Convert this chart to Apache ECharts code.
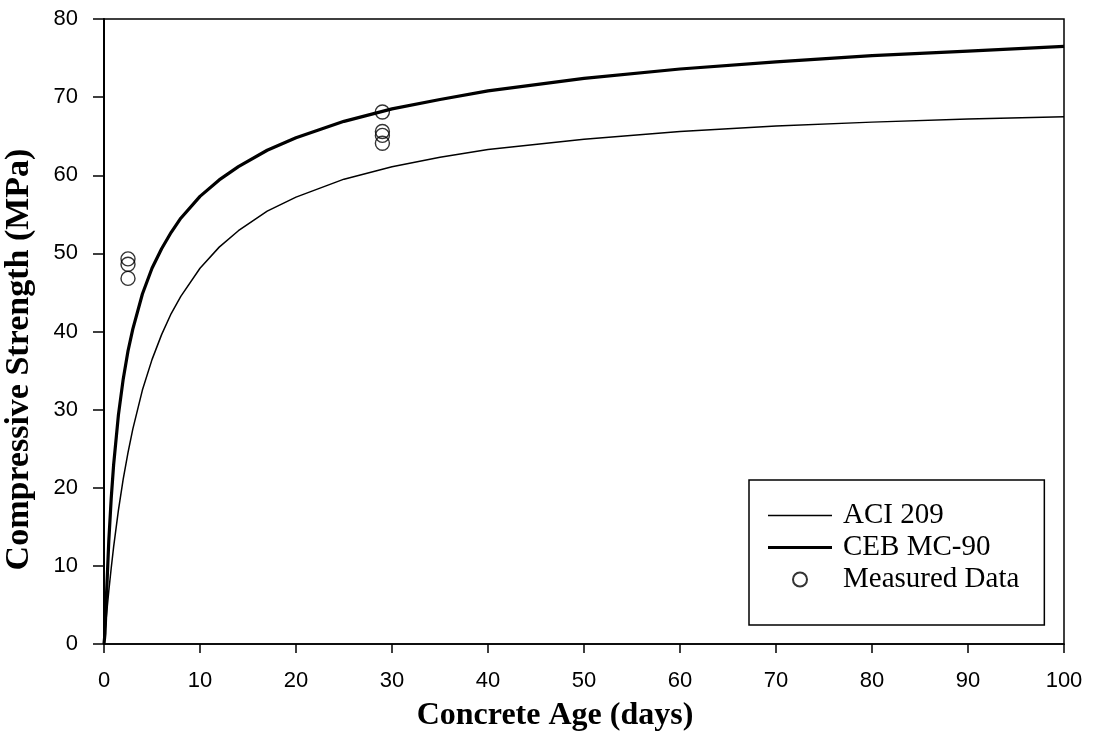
<!DOCTYPE html>
<html>
<head>
<meta charset="utf-8">
<script src="https://cdn.jsdelivr.net/npm/echarts@6/dist/echarts.min.js"></script>
<style>
  html, body { margin: 0; padding: 0; background: #fff; }
  #strengthChart { width: 1097px; height: 741px; }
</style>
</head>
<body>
<div id="strengthChart"></div>
<script>
// concrete age in days
var ageDays = [0, 0.1, 0.25, 0.5, 0.75, 1, 1.5, 2, 2.5, 3, 4, 5, 6, 7, 8, 10, 12, 14, 17, 20, 25, 30, 35, 40, 50, 60, 70, 80, 90, 100]
// ACI 209 (thin line)
var aciValues = [0, 1.5, 3.6, 6.8, 9.7, 12.4, 17.1, 21.1, 24.5, 27.5, 32.5, 36.4, 39.6, 42.3, 44.5, 48.1, 50.8, 52.9, 55.4, 57.2, 59.5, 61.1, 62.3, 63.3, 64.6, 65.6, 66.3, 66.8, 67.2, 67.5]
// CEB MC-90 (thick line)
var cebValues = [0, 1.3, 6.0, 13.2, 18.6, 22.9, 29.3, 33.9, 37.5, 40.3, 44.8, 48.1, 50.6, 52.7, 54.5, 57.3, 59.4, 61.1, 63.2, 64.8, 66.9, 68.5, 69.7, 70.8, 72.4, 73.6, 74.5, 75.3, 75.9, 76.5]
// measured cylinder results
var measuredDays = [2.5, 2.5, 2.5, 29, 29, 29, 29]
var measuredValues = [49.3, 48.6, 46.8, 68.1, 65.6, 65.1, 64.1]

var xTicks = { min: 0, max: 100, step: 10 }
var yTicks = { min: 0, max: 80, step: 10 }

var serifFont = '"Liberation Serif", "Times New Roman", serif'
var sansFont = '"Liberation Sans", Arial, sans-serif'

function pairs (xs, ys) {
    var out = []
    for (var i = 0; i < xs.length; i++) {
        out.push([xs[i], ys[i]])
    }
    return out
}

var chart = echarts.init(document.getElementById('strengthChart'))

var option = {
    backgroundColor: '#fff',
    animation: false,
    grid: {
        left: 104,
        right: 33,
        top: 19,
        bottom: 97,
        containLabel: false,
        outerBoundsMode: 'none',
        show: true,
        borderColor: '#000',
        borderWidth: 1.5
    },
    legend: {
        orient: 'vertical',
        left: 749,
        top: 480,
        padding: [21, 25, 31, 19],
        itemGap: 3,
        itemWidth: 64,
        itemHeight: 14,
        symbolKeepAspect: true,
        borderColor: '#000',
        borderWidth: 1.5,
        backgroundColor: '#fff',
        textStyle: {
            fontFamily: serifFont,
            fontSize: 29,
            color: '#000',
            padding: [0, 0, 0, 6]
        },
        data: [
            { name: 'ACI 209', icon: 'path://M0,0H64V1.5H0Z' },
            { name: 'CEB MC-90', icon: 'path://M0,0H64V3.2H0Z' },
            { name: 'Measured Data', icon: 'circle' }
        ]
    },
    xAxis: {
        type: 'value',
        min: xTicks.min,
        max: xTicks.max,
        interval: xTicks.step,
        name: 'Concrete Age (days)',
        nameLocation: 'middle',
        nameGap: 56,
        nameTextStyle: {
            fontFamily: serifFont,
            fontWeight: 'bold',
            fontSize: 32,
            color: '#000',
            padding: [0, 58, 0, 0]
        },
        axisLine: { lineStyle: { color: '#000', width: 1.5 } },
        axisTick: { length: 9, lineStyle: { color: '#000', width: 1.5 } },
        axisLabel: {
            margin: 26,
            fontFamily: sansFont,
            fontSize: 22,
            color: '#000'
        },
        splitLine: { show: false }
    },
    yAxis: {
        type: 'value',
        min: yTicks.min,
        max: yTicks.max,
        interval: yTicks.step,
        name: 'Compressive Strength (MPa)',
        nameLocation: 'middle',
        nameGap: 68,
        nameTextStyle: {
            fontFamily: serifFont,
            fontWeight: 'bold',
            fontSize: 34,
            color: '#000',
            padding: [0, 56, 0, 0]
        },
        axisLine: { lineStyle: { color: '#000', width: 2 } },
        axisTick: { length: 11, lineStyle: { color: '#000', width: 1.5 } },
        axisLabel: {
            margin: 26,
            fontFamily: sansFont,
            fontSize: 22,
            color: '#000'
        },
        splitLine: { show: false }
    },
    series: [
        {
            name: 'ACI 209',
            type: 'line',
            data: pairs(ageDays, aciValues),
            smooth: false,
            symbol: 'none',
            lineStyle: { color: '#000', width: 1.5 },
            itemStyle: { color: '#000' }
        },
        {
            name: 'CEB MC-90',
            type: 'line',
            data: pairs(ageDays, cebValues),
            smooth: false,
            symbol: 'none',
            lineStyle: { color: '#000', width: 3.2 },
            itemStyle: { color: '#000' }
        },
        {
            name: 'Measured Data',
            type: 'scatter',
            data: pairs(measuredDays, measuredValues),
            symbol: 'circle',
            symbolSize: 14,
            itemStyle: { color: 'rgba(255,255,255,0)', borderColor: '#000', borderWidth: 1.4 },
            z: 5
        }
    ]
}

chart.setOption(option, true)
</script>
</body>
</html>
